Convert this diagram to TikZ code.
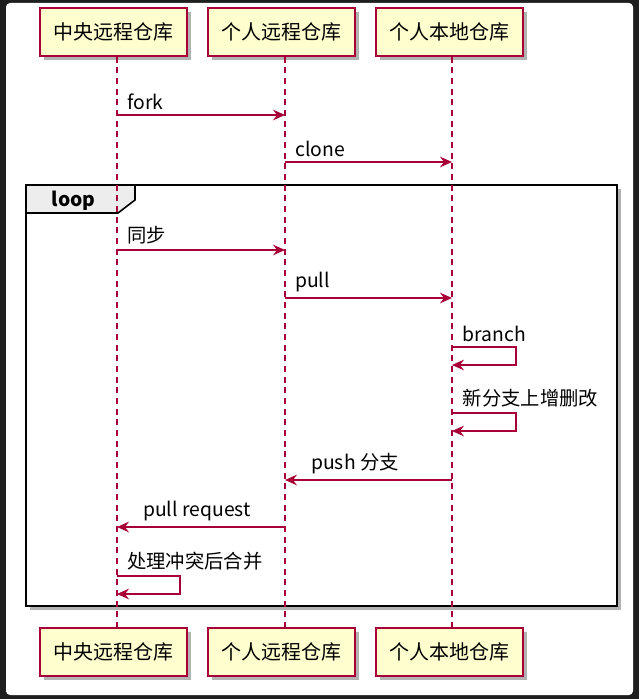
\documentclass[tikz,border=0pt]{standalone}
\usepackage{fontspec}
\setmainfont{Noto Sans CJK SC}
\usepackage{tikz}
\usetikzlibrary{arrows.meta,positioning,shadows}
\usepackage{xcolor}
\definecolor{umlred}{HTML}{A80036}
\definecolor{umlfill}{HTML}{FEFECE}
\definecolor{umlbg}{HTML}{1E1E1E}

\begin{document}
\begin{tikzpicture}
      [x=0.75pt, y=-0.75pt,
      part style/.style={draw=umlred, line width=1.2pt, fill=umlfill, rectangle, minimum width=110pt, minimum height=36pt, inner sep=0pt, font=\fontsize{15pt}{17pt}\selectfont, drop shadow={shadow xshift=3pt, shadow yshift=-3pt, fill=black, opacity=0.3}},
      life style/.style={draw=umlred, line width=0.8pt, dash pattern=on 4.5pt off 3.5pt},
      msg style/.style={draw=umlred, line width=1pt, -{Stealth[length=9pt, width=8pt, inset=3pt]}},
      label style/.style={anchor=south west, inner sep=0pt, font=\fontsize{14.5pt}{16pt}\selectfont}
      ]

      % background
      \fill[umlbg] (0,0) rectangle (639,699);
      \fill[white, rounded corners=3pt] (6,3) rectangle (633,695);
      \useasboundingbox (0,0) rectangle (639,699);

      % loop frame
      \draw[line width=2.2pt, fill=white, drop shadow={shadow xshift=3pt, shadow yshift=-3pt, fill=black, opacity=0.3}] (26,185) rectangle (617,606);
      \draw[line width=1.2pt, fill=black!7] (26,185) -- (135,185) -- (135,200) -- (118,213) -- (26,213) -- cycle;
      \node[anchor=west, font=\fontsize{14.5pt}{16pt}\selectfont\bfseries] (loopl) at (47,201) {loop};

      % participants
      \node[part style] (c1t) at (113.5,32) {中央远程仓库};
      \node[part style] (c2t) at (281.5,32) {个人远程仓库};
      \node[part style] (c3t) at (449.5,32) {个人本地仓库};
      \node[part style] (c1b) at (113.5,652) {中央远程仓库};
      \node[part style] (c2b) at (281.5,652) {个人远程仓库};
      \node[part style] (c3b) at (449.5,652) {个人本地仓库};

      % lifelines
      \coordinate (l1) at (117,0);
      \coordinate (l2) at (285,0);
      \coordinate (l3) at (452,0);
      \draw[life style] (l1 |- c1t.south) -- (l1 |- c1b.north);
      \draw[life style] (l2 |- c2t.south) -- (l2 |- c2b.north);
      \draw[life style] (l3 |- c3t.south) -- (l3 |- c3b.north);

      % messages
      \coordinate (fork a) at (117,115);   \coordinate (fork b) at (285,115);
      \coordinate (clone a) at (285,162);  \coordinate (clone b) at (452,162);
      \coordinate (sync a) at (117,250);   \coordinate (sync b) at (285,250);
      \coordinate (pull a) at (285,298);   \coordinate (pull b) at (452,298);
      \coordinate (br a) at (452,347);     \coordinate (br b) at (452,365);
      \coordinate (edit a) at (452,413);   \coordinate (edit b) at (452,431);
      \coordinate (push a) at (452,480);   \coordinate (push b) at (285,480);
      \coordinate (pr a) at (285,527);     \coordinate (pr b) at (117,527);
      \coordinate (merge a) at (117,576);  \coordinate (merge b) at (117,594);

      \draw[msg style] (fork a) -- (fork b);
      \draw[msg style] (clone a) -- (clone b);
      \draw[msg style] (sync a) -- (sync b);
      \draw[msg style] (pull a) -- (pull b);
      \draw[msg style] (br a) -- ++(64,0) -- ++(0,18) -- (br b);
      \draw[msg style] (edit a) -- ++(64,0) -- ++(0,18) -- (edit b);
      \draw[msg style] (push a) -- (push b);
      \draw[msg style] (pr a) -- (pr b);
      \draw[msg style] (merge a) -- ++(63,0) -- ++(0,18) -- (merge b);

      % message labels
      \node[label style] (forkl) at ([xshift=7.5pt, yshift=4pt] fork a) {fork};
      \node[label style] (clonel) at ([xshift=7.5pt, yshift=4pt] clone a) {clone};
      \node[label style] (syncl) at ([xshift=7.5pt, yshift=4pt] sync a) {同步};
      \node[label style] (pulll) at ([xshift=7.5pt, yshift=4pt] pull a) {pull};
      \node[label style] (brl) at ([xshift=8pt, yshift=4pt] br a) {branch};
      \node[label style] (editl) at ([xshift=8pt, yshift=4pt] edit a) {新分支上增删改};
      \node[label style] (pushl) at ([xshift=19.5pt, yshift=4pt] push b) {push 分支};
      \node[label style] (prl) at ([xshift=19.5pt, yshift=4pt] pr b) {pull request};
      \node[label style] (mergel) at ([xshift=7.5pt, yshift=4pt] merge a) {处理冲突后合并};
    \end{tikzpicture}
\end{document}
